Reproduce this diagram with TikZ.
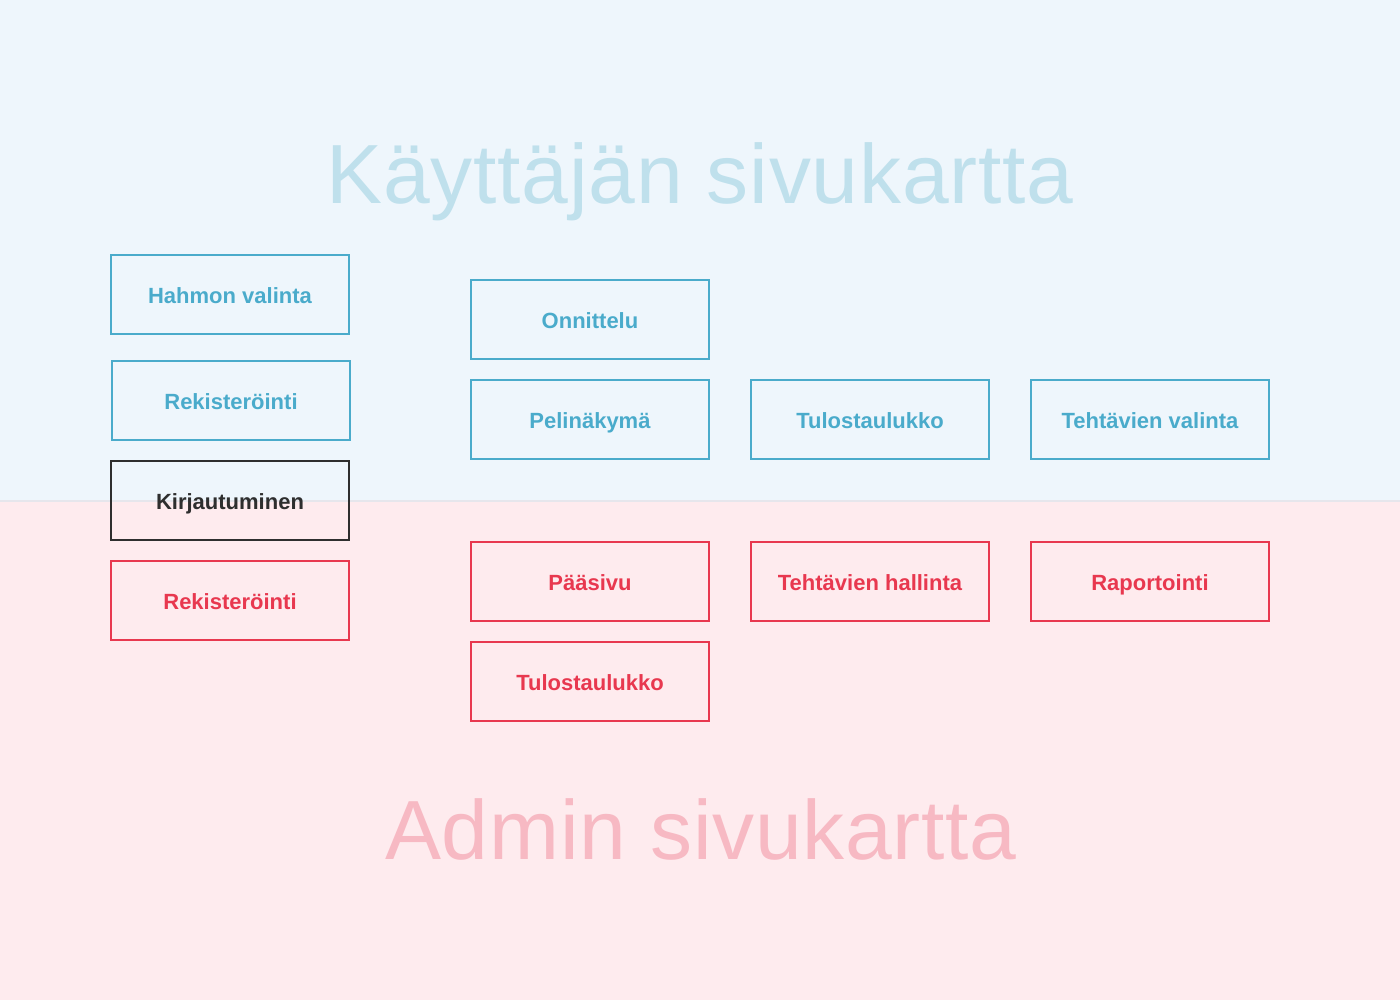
\documentclass[tikz,border=0pt]{standalone}
\usepackage{fontspec}
\setmainfont{Liberation Sans}
\newfontfamily\titlefont[LetterSpace=0.9]{Liberation Sans}
\definecolor{bgblue}{HTML}{EEF6FC}
\definecolor{bgpink}{HTML}{FEEBEE}
\definecolor{sepline}{HTML}{E6E6EC}
\definecolor{ublue}{HTML}{4AABCB}
\definecolor{ared}{HTML}{E8384F}
\definecolor{dark}{HTML}{2E2E2E}
\definecolor{tblue}{HTML}{BFE0EC}
\definecolor{tpink}{HTML}{F7B9C3}
\tikzset{
  pagebox/.style={draw, line width=2pt, minimum width=238pt, minimum height=79pt,
    inner sep=0pt, text height=18pt, text depth=0pt,
    font=\fontsize{22}{24}\selectfont\bfseries},
  userbox/.style={pagebox, draw=ublue, text=ublue},
  adminbox/.style={pagebox, draw=ared, text=ared},
  loginbox/.style={pagebox, draw=dark, text=dark},
  titletext/.style={anchor=base, inner sep=0pt, font=\titlefont\fontsize{84}{90}\selectfont}
}
\begin{document}
\begin{tikzpicture}[x=1pt, y=-1pt]
\useasboundingbox (0,0) rectangle (1400,1000);
\fill[bgblue] (0,0) rectangle (1400,501);
\fill[bgpink] (0,501) rectangle (1400,1000);
\draw[sepline, line width=2pt] (0,501) -- (1400,501);

\node[titletext, text=tblue] (t1) at (700,204) {Käyttäjän sivukartta};
\node[titletext, text=tpink] (t2) at (701,859) {Admin sivukartta};

\node[userbox] (hahmo) at (230,294.5) {Hahmon valinta};
\node[userbox] (rek1) at (231,400.5) {Rekisteröinti};
\node[loginbox] (kirj) at (230,500.5) {Kirjautuminen};
\node[adminbox] (rek2) at (230,600.5) {Rekisteröinti};

\node[userbox] (onn) at (590,319.5) {Onnittelu};
\node[userbox] (peli) at (590,419.5) {Pelinäkymä};
\node[userbox] (tulos1) at (870,419.5) {Tulostaulukko};
\node[userbox] (tval) at (1150,419.5) {Tehtävien valinta};

\node[adminbox] (paa) at (590,581.5) {Pääsivu};
\node[adminbox] (thal) at (870,581.5) {Tehtävien hallinta};
\node[adminbox] (rap) at (1150,581.5) {Raportointi};
\node[adminbox] (tulos2) at (590,681.5) {Tulostaulukko};
\end{tikzpicture}
\end{document}
